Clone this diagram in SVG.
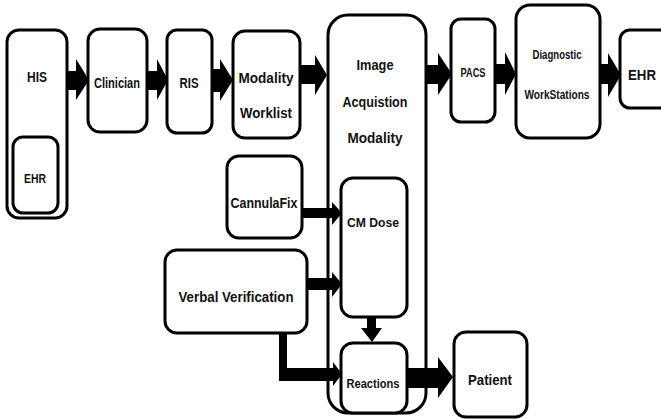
<svg xmlns="http://www.w3.org/2000/svg" width="661" height="419" viewBox="0 0 661 419">
<style>
.box{fill:#fff;stroke:#000;stroke-width:3}
.t{font-family:"Liberation Sans",Arial,sans-serif;font-weight:bold;fill:#111;text-anchor:middle;font-size:14px}
.s{font-size:12px}
.arr{fill:#000;stroke:none}
</style>
<rect width="661" height="419" fill="#fff"/>
<g id="his"><rect class="box" x="7" y="30" width="60" height="188" rx="12"/><text class="t" x="37" y="82" textLength="20" lengthAdjust="spacingAndGlyphs">HIS</text></g>
<g id="ehr-inner"><rect class="box" x="13" y="137" width="45" height="76" rx="10"/><text class="t s" x="35" y="183" textLength="22" lengthAdjust="spacingAndGlyphs">EHR</text></g>
<g id="clinician"><rect class="box" x="88" y="29" width="59" height="103" rx="12"/><text class="t" x="117" y="88" textLength="46" lengthAdjust="spacingAndGlyphs">Clinician</text></g>
<g id="ris"><rect class="box" x="167" y="30" width="45" height="103" rx="10"/><text class="t" x="189" y="88" textLength="19" lengthAdjust="spacingAndGlyphs">RIS</text></g>
<g id="worklist"><rect class="box" x="233" y="31" width="67" height="107" rx="12"/><text class="t" x="266" y="83" textLength="55" lengthAdjust="spacingAndGlyphs">Modality</text><text class="t" x="266" y="118" textLength="52" lengthAdjust="spacingAndGlyphs">Worklist</text></g>
<g id="iam"><rect class="box" x="328" y="15" width="98" height="398" rx="20"/><text class="t" x="375" y="70" textLength="37" lengthAdjust="spacingAndGlyphs">Image</text><text class="t" x="375" y="107" textLength="65" lengthAdjust="spacingAndGlyphs">Acquistion</text><text class="t" x="375" y="143" textLength="55" lengthAdjust="spacingAndGlyphs">Modality</text></g>
<g id="pacs"><rect class="box" x="451" y="19" width="44" height="103" rx="10"/><text class="t s" x="473" y="77" textLength="25" lengthAdjust="spacingAndGlyphs">PACS</text></g>
<g id="diag"><rect class="box" x="516" y="5" width="84" height="133" rx="14"/><text class="t s" x="557" y="59" textLength="49" lengthAdjust="spacingAndGlyphs">Diagnostic</text><text class="t s" x="557" y="99" textLength="65" lengthAdjust="spacingAndGlyphs">WorkStations</text></g>
<g id="ehr"><rect class="box" x="620" y="30" width="50" height="78" rx="10"/><text class="t" x="642" y="80" textLength="28" lengthAdjust="spacingAndGlyphs">EHR</text></g>
<g id="cannula"><rect class="box" x="227" y="156" width="75" height="82" rx="12"/><text class="t" x="264" y="208" textLength="67" lengthAdjust="spacingAndGlyphs">CannulaFix</text></g>
<g id="cmdose"><rect class="box" x="341" y="178" width="66" height="139" rx="12"/><text class="t s" x="373" y="227" textLength="52" lengthAdjust="spacingAndGlyphs">CM Dose</text></g>
<g id="verbal"><rect class="box" x="165" y="250" width="142" height="83" rx="12"/><text class="t" x="236" y="302" textLength="115" lengthAdjust="spacingAndGlyphs">Verbal Verification</text></g>
<g id="reactions"><rect class="box" x="341" y="343" width="66" height="70" rx="12"/><text class="t s" x="373" y="388" textLength="53" lengthAdjust="spacingAndGlyphs">Reactions</text></g>
<g id="patient"><rect class="box" x="454" y="332" width="73" height="85" rx="12"/><text class="t" x="490" y="385" textLength="44" lengthAdjust="spacingAndGlyphs">Patient</text></g>
<g id="connectors">
<polygon class="arr" points="66,71 76,71 76,59 89,80 76,100 76,90 66,90"/>
<polygon class="arr" points="147,71 157,71 157,59 168,80 157,100 157,90 147,90"/>
<polygon class="arr" points="212,69 220,69 220,59 233,80 220,101 220,92 212,92"/>
<polygon class="arr" points="300,65 315,65 315,55 327,75 315,95 315,84 300,84"/>
<polygon class="arr" points="426,65 438,65 438,53 452,74 438,95 438,84 426,84"/>
<polygon class="arr" points="495,64 505,64 505,52 516,74 505,95 505,84 495,84"/>
<polygon class="arr" points="600,64 608,64 608,53 621,75 608,97 608,84 600,84"/>
<polygon class="arr" points="302,208 332,208 332,202 342,213 332,225 332,218 302,218"/>
<polygon class="arr" points="307,278 332,278 332,272 342,284 332,297 332,290 307,290"/>
<polygon class="arr" points="279,333 287,333 287,368 333,368 333,362 342,374 333,386 333,381 279,381"/>
<polygon class="arr" points="367,317 376,317 376,328 382,328 372,342 361,328 367,328"/>
<polygon class="arr" points="407,368 438,368 438,357 453,377 438,398 438,388 407,388"/>
</g>
</svg>
